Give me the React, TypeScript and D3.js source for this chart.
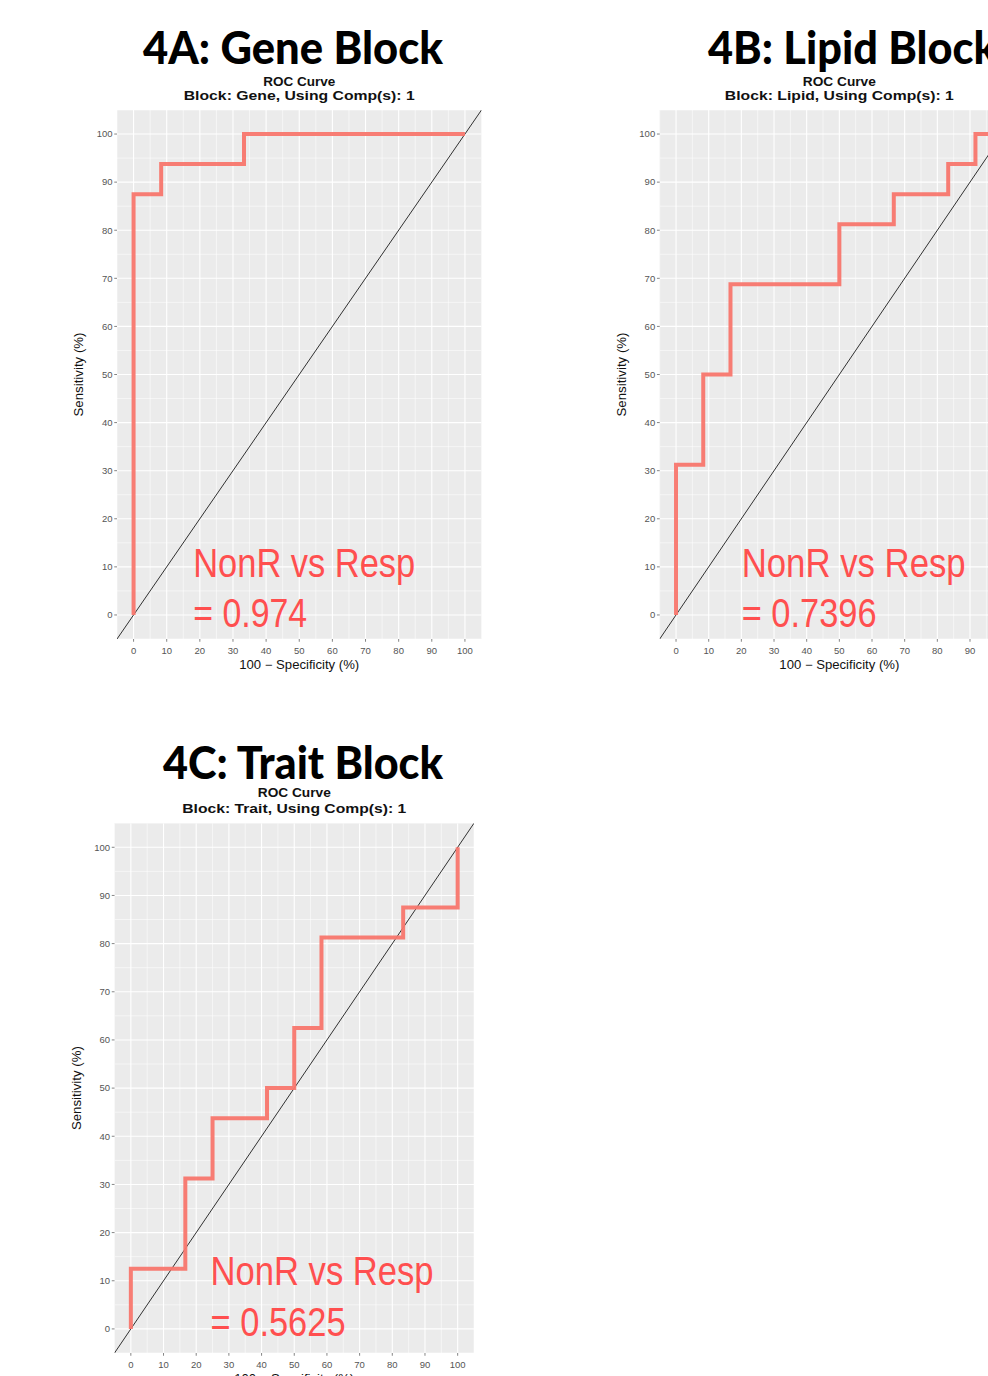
import { useEffect, useRef } from 'react';
import * as d3 from 'd3';

// ROC coordinates: x = 100 - specificity, y = sensitivity (%)
const geneFpr = [0, 0, 8.33, 8.33, 33.33, 33.33, 100];
const geneTpr = [0, 87.5, 87.5, 93.75, 93.75, 100, 100];

const lipidFpr = [0, 0, 8.33, 8.33, 16.67, 16.67, 50, 50, 66.67, 66.67, 83.33, 83.33, 91.67, 91.67, 100];
const lipidTpr = [0, 31.25, 31.25, 50, 50, 68.75, 68.75, 81.25, 81.25, 87.5, 87.5, 93.75, 93.75, 100, 100];

const traitFpr = [0, 0, 16.67, 16.67, 25, 25, 41.67, 41.67, 50, 50, 58.33, 58.33, 83.33, 83.33, 100, 100];
const traitTpr = [0, 12.5, 12.5, 31.25, 31.25, 43.75, 43.75, 50, 50, 62.5, 62.5, 81.25, 81.25, 87.5, 87.5, 100];

const blocks = ['Gene', 'Lipid', 'Trait'];
const panelTitles = ['4A: Gene Block', '4B: Lipid Block', '4C: Trait Block'];
const aucLabels = ['0.974', '0.7396', '0.5625'];
const majorTicks = [0, 10, 20, 30, 40, 50, 60, 70, 80, 90, 100];
const minorTicks = [-5, 5, 15, 25, 35, 45, 55, 65, 75, 85, 95, 105];

const W = 988;
const H = 1376;

// layout of each panel (pixels)
const layout = [
  {
    rect: [117, 481.5, 110, 639], titleX: 293, titleY: 64, titleLen: 300,
    subY: [85.5, 100], subLen: [72, 231], yTitleX: 83,
    annX: 18, annY: [7.96, -2.43], annLen: [222, 114],
    fpr: geneFpr, tpr: geneTpr
  },
  {
    rect: [659.7, 1019, 110, 639], titleX: 852.5, titleY: 64, titleLen: 289,
    subY: [85.5, 100], subLen: [73, 229], yTitleX: 626,
    annX: 20.1, annY: [7.96, -2.43], annLen: [224, 135],
    fpr: lipidFpr, tpr: lipidTpr
  },
  {
    rect: [114.5, 474, 823.2, 1353], titleX: 303, titleY: 779, titleLen: 280,
    subY: [797, 812.5], subLen: [73, 224], yTitleX: 81,
    annX: 24.4, annY: [9.13, -1.45], annLen: [223, 135],
    fpr: traitFpr, tpr: traitTpr
  }
];

export default function App() {
  const svgRef = useRef(null);

  useEffect(() => {
    if (!svgRef.current) return;
    const svg = d3.select(svgRef.current);
    svg.selectAll('*').remove();

    const defs = svg.append('defs');

    layout.forEach((p, i) => {
      const [x0, x1, y0, y1] = p.rect;
      const x = d3.scaleLinear().domain([-5, 105]).range([x0, x1]);
      const y = d3.scaleLinear().domain([-5, 105]).range([y1, y0]);
      const cx = (x0 + x1) / 2;

      defs.append('clipPath').attr('id', `clip${i}`)
        .append('rect')
        .attr('x', x0).attr('y', y0)
        .attr('width', x1 - x0).attr('height', y1 - y0);

      const g = svg.append('g');

      // panel background
      g.append('rect')
        .attr('x', x0).attr('y', y0)
        .attr('width', x1 - x0).attr('height', y1 - y0)
        .attr('fill', '#EBEBEB');

      const grid = g.append('g').attr('clip-path', `url(#clip${i})`);
      minorTicks.forEach(t => {
        grid.append('line').attr('x1', x(t)).attr('x2', x(t)).attr('y1', y0).attr('y2', y1)
          .attr('stroke', '#fff').attr('stroke-width', 0.55);
        grid.append('line').attr('y1', y(t)).attr('y2', y(t)).attr('x1', x0).attr('x2', x1)
          .attr('stroke', '#fff').attr('stroke-width', 0.55);
      });
      majorTicks.forEach(t => {
        grid.append('line').attr('x1', x(t)).attr('x2', x(t)).attr('y1', y0).attr('y2', y1)
          .attr('stroke', '#fff').attr('stroke-width', 1.1);
        grid.append('line').attr('y1', y(t)).attr('y2', y(t)).attr('x1', x0).attr('x2', x1)
          .attr('stroke', '#fff').attr('stroke-width', 1.1);
      });

      // chance diagonal
      grid.append('line')
        .attr('x1', x(-5)).attr('y1', y(-5)).attr('x2', x(105)).attr('y2', y(105))
        .attr('stroke', '#000').attr('stroke-width', 0.8);

      // ROC curve
      const pts = p.fpr.map((f, k) => [f, p.tpr[k]]);
      const line = d3.line().x(d => x(d[0])).y(d => y(d[1]));
      grid.append('path')
        .attr('d', line(pts))
        .attr('fill', 'none')
        .attr('stroke', '#F8766D')
        .attr('stroke-width', 4)
        .attr('stroke-linejoin', 'miter')
        .attr('stroke-opacity', 0.95);

      // annotation
      const ann = [`NonR vs Resp`, `= ${aucLabels[i]}`];
      ann.forEach((t, k) => {
        g.append('text')
          .attr('x', x(p.annX)).attr('y', y(p.annY[k]))
          .attr('textLength', p.annLen[k]).attr('lengthAdjust', 'spacingAndGlyphs')
          .style('font-family', '"Liberation Sans", Arial, sans-serif')
          .style('font-size', '40px')
          .style('fill', '#FF4F4F')
          .text(t);
      });

      // axes ticks + labels
      majorTicks.forEach(t => {
        g.append('line').attr('x1', x0 - 2.75).attr('x2', x0).attr('y1', y(t)).attr('y2', y(t))
          .attr('stroke', '#333').attr('stroke-width', 0.6);
        g.append('text')
          .attr('x', x0 - 4.5).attr('y', y(t)).attr('dy', '0.35em')
          .attr('text-anchor', 'end')
          .style('font-family', '"Liberation Sans", Arial, sans-serif')
          .style('font-size', '9.5px').style('fill', '#555')
          .text(t);
        g.append('line').attr('x1', x(t)).attr('x2', x(t)).attr('y1', y1).attr('y2', y1 + 2.75)
          .attr('stroke', '#333').attr('stroke-width', 0.6);
        g.append('text')
          .attr('x', x(t)).attr('y', y1 + 14.5)
          .attr('text-anchor', 'middle')
          .style('font-family', '"Liberation Sans", Arial, sans-serif')
          .style('font-size', '9.5px').style('fill', '#555')
          .text(t);
      });

      // axis titles
      g.append('text')
        .attr('x', cx).attr('y', y1 + 29.5)
        .attr('text-anchor', 'middle')
        .attr('textLength', 120).attr('lengthAdjust', 'spacingAndGlyphs')
        .style('font-family', '"Liberation Sans", Arial, sans-serif')
        .style('font-size', '12px').style('fill', '#111')
        .text('100 \u2212 Specificity (%)');
      g.append('text')
        .attr('transform', `translate(${p.yTitleX},${(y0 + y1) / 2}) rotate(-90)`)
        .attr('text-anchor', 'middle')
        .attr('textLength', 84).attr('lengthAdjust', 'spacingAndGlyphs')
        .style('font-family', '"Liberation Sans", Arial, sans-serif')
        .style('font-size', '12px').style('fill', '#111')
        .text('Sensitivity (%)');

      // titles
      g.append('text')
        .attr('x', p.titleX).attr('y', p.titleY)
        .attr('text-anchor', 'middle')
        .attr('textLength', p.titleLen).attr('lengthAdjust', 'spacingAndGlyphs')
        .style('font-family', 'Lato, "Open Sans", sans-serif')
        .style('font-weight', 900)
        .style('font-size', '46px').style('fill', '#000')
        .text(panelTitles[i]);
      g.append('text')
        .attr('x', cx).attr('y', p.subY[0])
        .attr('text-anchor', 'middle')
        .attr('textLength', p.subLen[0]).attr('lengthAdjust', 'spacingAndGlyphs')
        .style('font-family', '"Liberation Sans", Arial, sans-serif')
        .style('font-weight', 700)
        .style('font-size', '13.5px').style('fill', '#111')
        .text('ROC Curve');
      g.append('text')
        .attr('x', cx).attr('y', p.subY[1])
        .attr('text-anchor', 'middle')
        .attr('textLength', p.subLen[1]).attr('lengthAdjust', 'spacingAndGlyphs')
        .style('font-family', '"Liberation Sans", Arial, sans-serif')
        .style('font-weight', 700)
        .style('font-size', '13.5px').style('fill', '#111')
        .text(`Block: ${blocks[i]}, Using Comp(s): 1`);
    });
  }, []);

  return (
    <div style={{ position: 'absolute', left: 0, top: 0, width: W, height: H, overflow: 'hidden', background: '#fff' }}>
      <svg ref={svgRef} width={W} height={H} style={{ display: 'block' }} />
    </div>
  );
}
